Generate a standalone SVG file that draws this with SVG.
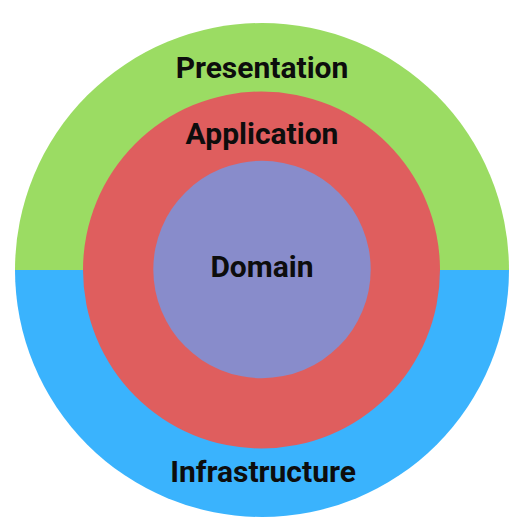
<svg xmlns="http://www.w3.org/2000/svg" width="522" height="529" viewBox="0 0 522 529">
<style>
.lbl{font-family:Roboto,"Liberation Sans",sans-serif;font-weight:bold;font-size:30px;fill:#0d0d0d;text-anchor:middle}
</style>
<rect width="522" height="529" fill="#ffffff"/>
<g id="infrastructure">
<path d="M15,270 A247,247 0 0 0 509,270 Z" fill="#3AB3FD"/>
<text class="lbl" x="263" y="482">Infrastructure</text>
</g>
<g id="presentation">
<path d="M15,270 A247,247 0 0 1 509,270 Z" fill="#9BDC63"/>
<text class="lbl" x="262" y="78">Presentation</text>
</g>
<g id="application">
<circle cx="261.5" cy="270" r="178.5" fill="#DF5E5E"/>
<text class="lbl" x="262" y="144">Application</text>
</g>
<g id="domain">
<circle cx="262" cy="269.5" r="108.7" fill="#888CCB"/>
<text class="lbl" x="262" y="277">Domain</text>
</g>
<g id="connectors"></g>
</svg>
